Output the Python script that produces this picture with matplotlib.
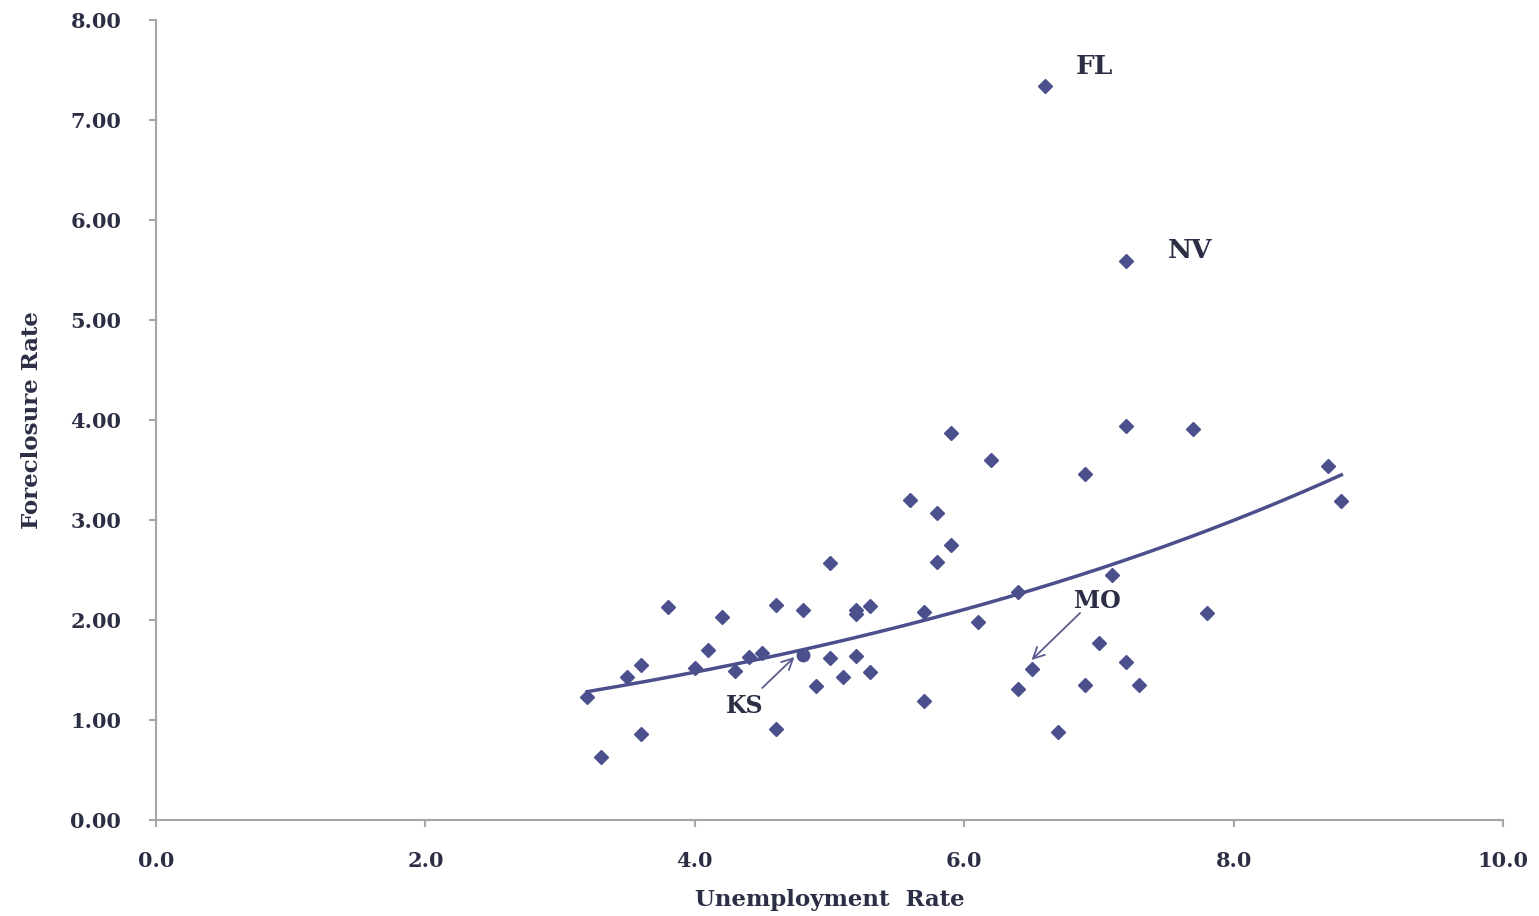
import numpy as np
import matplotlib
matplotlib.use("Agg")
import matplotlib.pyplot as plt
from matplotlib.ticker import FormatStrFormatter, MultipleLocator

unemployment = [3.2, 3.3, 3.5, 3.6, 3.6, 3.8, 4.0, 4.1, 4.2, 4.3, 4.4, 4.5, 4.6, 4.6,
                4.8, 4.9, 5.0, 5.0, 5.1, 5.2, 5.2, 5.2, 5.3, 5.3, 5.6, 5.7, 5.7,
                5.8, 5.8, 5.9, 5.9, 6.1, 6.2, 6.4, 6.4, 6.5, 6.6, 6.7, 6.9, 6.9,
                7.0, 7.1, 7.2, 7.2, 7.2, 7.3, 7.7, 7.8, 8.7, 8.8]
foreclosure = [1.23, 0.63, 1.43, 1.55, 0.86, 2.13, 1.52, 1.70, 2.03, 1.49, 1.63, 1.67, 2.15, 0.91,
               2.10, 1.34, 2.57, 1.62, 1.43, 2.10, 2.06, 1.64, 2.14, 1.48, 3.20, 2.08, 1.19,
               3.07, 2.58, 3.87, 2.75, 1.98, 3.60, 2.28, 1.31, 1.51, 7.34, 0.88, 3.46, 1.35,
               1.77, 2.45, 5.59, 3.94, 1.58, 1.35, 3.91, 2.07, 3.54, 3.19]
ks_point = (4.8, 1.65)

state_labels = ["FL", "NV", "MO", "KS"]

navy = "#4B4F8C"
text_c = "#2B2E45"
grey = "#A6A6A6"
arrow_c = "#5A5C90"

fig = plt.figure(figsize=(15.39, 9.16), dpi=100)
ax = fig.add_axes([0.1014, 0.1048, 0.8752, 0.8734])

x_all = np.array(unemployment + [ks_point[0]])
y_all = np.array(foreclosure + [ks_point[1]])

ax.plot(unemployment, foreclosure, linestyle="none", marker="D", markersize=7.5,
        color=navy, zorder=3)
ax.plot([ks_point[0]], [ks_point[1]], linestyle="none", marker="o", markersize=9,
        color=navy, zorder=3)

# exponential trend line (least squares on log)
b, ln_a = np.polyfit(x_all, np.log(y_all), 1)
xs = np.linspace(x_all.min(), x_all.max(), 200)
ax.plot(xs, np.exp(ln_a) * np.exp(b * xs), color=navy, linewidth=2.5, zorder=2)

font = dict(family="DejaVu Serif", weight="bold", color=text_c)

ax.text(6.97, 7.53, state_labels[0], fontsize=19, ha="center", va="center", **font)
ax.text(7.68, 5.69, state_labels[1], fontsize=19, ha="center", va="center", **font)
ax.text(6.99, 2.19, state_labels[2], fontsize=17, ha="center", va="center", **font)
ax.text(4.37, 1.14, state_labels[3], fontsize=17, ha="center", va="center", **font)

arrow = dict(arrowstyle="->", color=arrow_c, lw=1.3, shrinkA=0, shrinkB=0,
             mutation_scale=20)
ax.annotate("", xy=(6.50, 1.60), xytext=(6.86, 2.07), arrowprops=arrow)
ax.annotate("", xy=(4.74, 1.63), xytext=(4.50, 1.32), arrowprops=arrow)

ax.set_xlim(0, 10)
ax.set_ylim(0, 8)
ax.xaxis.set_major_locator(MultipleLocator(2))
ax.yaxis.set_major_locator(MultipleLocator(1))
ax.xaxis.set_major_formatter(FormatStrFormatter("%.1f"))
ax.yaxis.set_major_formatter(FormatStrFormatter("%.2f"))

for s in ["top", "right"]:
    ax.spines[s].set_visible(False)
for s in ["left", "bottom"]:
    ax.spines[s].set_color(grey)
    ax.spines[s].set_linewidth(1.5)
ax.tick_params(direction="out", length=5, width=1.5, color=grey,
               labelsize=15, labelcolor=text_c)
ax.tick_params(axis="y", pad=20)
ax.tick_params(axis="x", pad=17)
for lab in ax.get_xticklabels() + ax.get_yticklabels():
    lab.set_family("DejaVu Serif")
    lab.set_fontweight("bold")

ax.set_xlabel("Unemployment  Rate", fontsize=16.5, labelpad=13, **font)
ax.set_ylabel("Foreclosure Rate", fontsize=16.5, labelpad=20, **font)

fig.savefig("out.png", dpi=100, facecolor="white")
